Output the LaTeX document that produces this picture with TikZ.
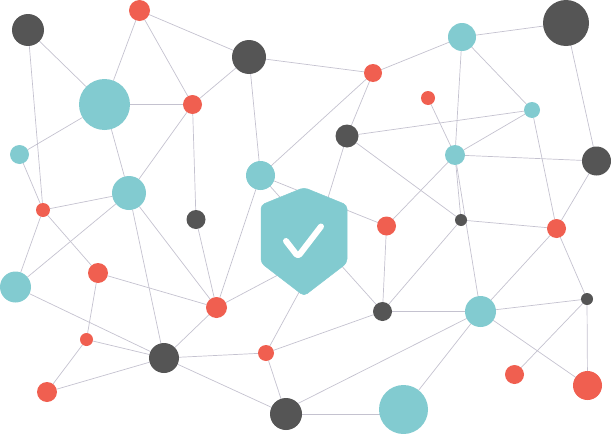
\documentclass[tikz,border=0pt]{standalone}
\usetikzlibrary{backgrounds}
\definecolor{tealc}{HTML}{82CBD0}
\definecolor{redc}{HTML}{F05F50}
\definecolor{darkc}{HTML}{555555}
\definecolor{linec}{HTML}{C4C2CF}
\tikzset{
  dot/.style={circle,inner sep=0pt,outer sep=0pt,minimum size=#1*2pt},
  darkdot/.style={dot=#1,fill=darkc},
  reddot/.style={dot=#1,fill=redc},
  tealdot/.style={dot=#1,fill=tealc},
  link/.style={draw=linec,line width=0.7pt},
}
\begin{document}
\begin{tikzpicture}[x=1pt,y=-1pt]
\useasboundingbox (0,0) rectangle (611,434);
% dark
\node[darkdot=16] (d1) at (28,30) {};
\node[darkdot=17] (d2) at (249,57) {};
\node[darkdot=11.5] (d3) at (347,136) {};
\node[darkdot=23] (d4) at (566,23) {};
\node[darkdot=14.5] (d5) at (596.5,161) {};
\node[darkdot=9.5] (d6) at (196,219.5) {};
\node[darkdot=6] (d7) at (461,220) {};
\node[darkdot=9.5] (d8) at (382.5,311.5) {};
\node[darkdot=6] (d9) at (587,299) {};
\node[darkdot=15] (d10) at (164,358) {};
\node[darkdot=16] (d11) at (286,414) {};
% red
\node[reddot=10.5] (r1) at (139.5,10.5) {};
\node[reddot=9.5] (r2) at (192.5,104.5) {};
\node[reddot=9] (r3) at (373,73) {};
\node[reddot=7] (r4) at (428,98) {};
\node[reddot=7] (r5) at (43,210) {};
\node[reddot=9.5] (r6) at (386.5,226) {};
\node[reddot=9.5] (r7) at (556.5,228.5) {};
\node[reddot=10] (r8) at (98,273) {};
\node[reddot=10.5] (r9) at (216.5,307.5) {};
\node[reddot=6.5] (r10) at (86.5,339.5) {};
\node[reddot=10] (r11) at (47,392) {};
\node[reddot=8] (r12) at (266,353) {};
\node[reddot=9.5] (r13) at (514.5,374.5) {};
\node[reddot=14.5] (r14) at (587.5,385.5) {};
% teal
\node[tealdot=25.5] (t1) at (104.5,104.5) {};
\node[tealdot=14] (t2) at (462,37) {};
\node[tealdot=8] (t3) at (532,110) {};
\node[tealdot=9.5] (t4) at (19.5,154.5) {};
\node[tealdot=10] (t5) at (455,155) {};
\node[tealdot=17] (t6) at (129,193) {};
\node[tealdot=14.5] (t7) at (260.5,175.5) {};
\node[tealdot=15.5] (t8) at (15.5,287) {};
\node[tealdot=15.5] (t9) at (480.5,311.5) {};
\node[tealdot=24.5] (t10) at (403.5,409.5) {};
% free ends hidden behind the shield or a dot
\coordinate (s1) at (315,240);
\coordinate (s2) at (322,250);
\coordinate (s3) at (310,258);
\coordinate (e1) at (286,409.5);
\coordinate (e2) at (403.5,414);
% shield
\filldraw[fill=tealc,draw=tealc,line width=0.5pt,rounded corners=4pt]
  (304,187.5) -- (347,205) -- (347,263) -- (304,296) -- (261,263) -- (261,205) -- cycle;
\draw[white,line width=6pt,line cap=round,line join=round,rounded corners=3pt]
  (286,241) -- (298,256.5) -- (321,226.5);
\begin{scope}[on background layer]
\foreach \a/\b in {d1/t1,d1/r5,r1/t1,r1/r2,r1/d2,t1/r2,t1/t4,t1/t6,r2/d2,r2/t6,r2/d6,
  d2/r3,d2/t7,t4/r5,r5/t6,r5/r8,r5/t8,t6/t8,t6/d10,t6/r9,d6/r9,t7/r9,t7/r3,t7/r6,t7/d8,
  d3/r3,d3/s1,d3/d7,d3/t3,t5/r4,t5/t2,t5/t3,t5/d5,t5/r6,t5/d7,t5/t9,t2/r3,t2/d4,t2/t3,
  t3/r7,d4/d5,d5/r7,d7/r7,d7/d8,r7/t9,r7/d9,d9/t9,d9/r13,d9/r14,t9/r14,t9/d8,t9/t10,t9/e1,
  d8/r6,d8/r12,e2/d11,d10/r9,r8/r9,r8/r10,r10/d10,r10/r11,r11/d10,t8/d10,d10/r12,d10/d11,
  r12/d11,r9/s3,r12/s2}
  \draw[link] (\a) -- (\b);
\end{scope}
\end{tikzpicture}
\end{document}
